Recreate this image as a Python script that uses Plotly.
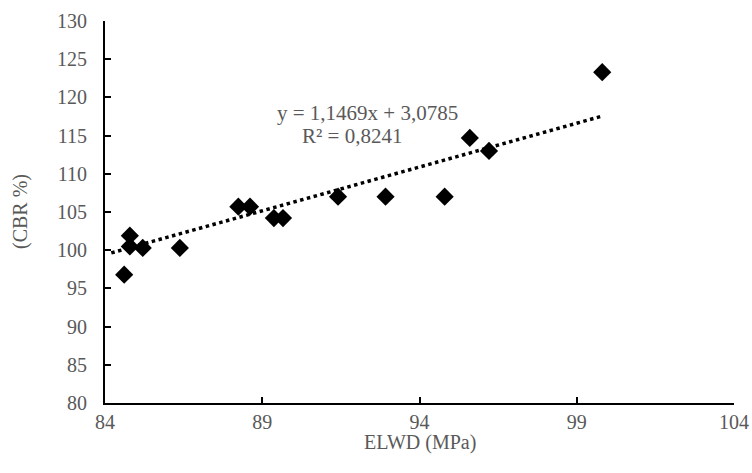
import plotly.graph_objects as go
import numpy as np

elwd = [84.61, 84.79, 84.79, 85.20, 86.38, 88.24, 88.61, 89.37, 89.66, 91.41, 92.92, 94.80, 95.60, 96.21, 99.81]
cbr = [96.8, 101.9, 100.5, 100.3, 100.3, 105.7, 105.7, 104.2, 104.2, 107.0, 107.0, 107.0, 114.7, 113.0, 123.3]

slope = 1.1469
intercept = 3.0785
trend_x_start = 84.2
eq_line1 = "y = 1,1469x + 3,0785"
eq_line2 = "R² = 0,8241"
x_title = "ELWD (MPa)"
y_title = "(CBR %)"

x_ticks = [84, 89, 94, 99, 104]
y_ticks = [80, 85, 90, 95, 100, 105, 110, 115, 120, 125, 130]
y_range = [80, 130]

tx = np.linspace(trend_x_start, max(elwd), 60)
ty = slope * tx + intercept

font = "Liberation Serif"
grey = "#595959"

fig = go.Figure()
fig.add_trace(go.Scatter(x=tx, y=ty, mode="lines",
                         line=dict(color="black", width=3.5, dash="dot"),
                         hoverinfo="skip", showlegend=False))
fig.add_trace(go.Scatter(x=elwd, y=cbr, mode="markers",
                         marker=dict(symbol="diamond", size=14, color="black"),
                         showlegend=False))
# invisible helper trace for the label axis
fig.add_trace(go.Scatter(x=[x_ticks[0]], y=[y_range[0]], yaxis="y2", mode="markers",
                         marker=dict(opacity=0), hoverinfo="skip", showlegend=False))

fig.add_annotation(x=95.3, y=118.0, text=eq_line1, showarrow=False,
                   font=dict(family=font, size=21, color=grey), xanchor="right", yanchor="middle")
fig.add_annotation(x=93.5, y=114.9, text=eq_line2, showarrow=False,
                   font=dict(family=font, size=21, color=grey), xanchor="right", yanchor="middle")

# axis titles
fig.add_annotation(xref="paper", yref="paper", x=0.5, y=0, yshift=-39, text=x_title,
                   showarrow=False, font=dict(family=font, size=20, color=grey),
                   xanchor="center", yanchor="middle")
fig.add_annotation(xref="paper", yref="paper", x=0, y=0.5, xshift=-85, text=y_title,
                   textangle=-90, showarrow=False, font=dict(family=font, size=20, color=grey),
                   xanchor="center", yanchor="middle")

fig.update_layout(
    width=752, height=473,
    margin=dict(l=105, r=18, t=21, b=70),
    paper_bgcolor="white", plot_bgcolor="white",
    font=dict(family=font, size=20, color=grey),
    yaxis2=dict(overlaying="y", side="left", range=y_range, tickvals=y_ticks,
                showgrid=False, zeroline=False, showline=False, automargin=False,
                ticks="outside", ticklen=13, tickcolor="rgba(0,0,0,0)",
                tickfont=dict(family=font, size=20, color=grey)),
)
fig.update_xaxes(range=[84, 104], tickvals=x_ticks, showgrid=False, zeroline=False,
                 showline=True, linecolor="black", linewidth=2, automargin=False,
                 ticks="inside", ticklen=6, tickcolor="black", tickwidth=1.5,
                 tickfont=dict(family=font, size=20, color=grey))
fig.update_yaxes(selector=dict(overlaying=None), range=y_range, tickvals=y_ticks,
                 showgrid=False, zeroline=False, showticklabels=False,
                 showline=True, linecolor="black", linewidth=2, automargin=False,
                 ticks="inside", ticklen=6, tickcolor="black", tickwidth=1.5)
fig.layout.yaxis2.showticklabels = True

fig.write_html("out.html", config={"displayModeBar": False},
               post_script="document.body.style.margin='0';")
